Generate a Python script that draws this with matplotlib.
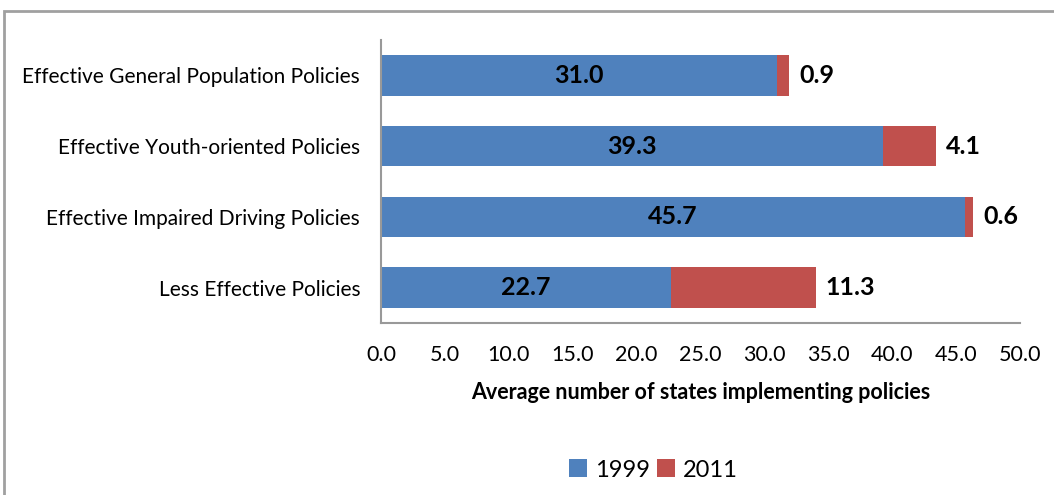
import matplotlib.pyplot as plt
from matplotlib.patches import Rectangle

# data
categorias = ['Effective General Population Policies', 'Effective Youth-oriented Policies',
              'Effective Impaired Driving Policies', 'Less Effective Policies']
v1999 = [31.0, 39.3, 45.7, 22.7]
v2011 = [0.9, 4.1, 0.6, 11.3]
anos = ['1999', '2011']
cores = ['#4F81BD', '#C0504D']

plt.rcParams['font.family'] = ['Lato', 'DejaVu Sans']

fig = plt.figure(figsize=(10.54, 4.95), dpi=100)
ax = fig.add_axes([381 / 1054, 1 - 323 / 495, (1020 - 381) / 1054, (323 - 40) / 495])

y = list(range(len(categorias)))[::-1]
b1 = ax.barh(y, v1999, height=0.57, color=cores[0], label=anos[0])
b2 = ax.barh(y, v2011, left=v1999, height=0.57, color=cores[1], label=anos[1])

for yi, a, b in zip(y, v1999, v2011):
    ax.text(a / 2, yi, f'{a:.1f}', ha='center', va='center', fontsize=18, fontweight='bold')
    ax.text(a + b + 0.8, yi, f'{b:.1f}', ha='left', va='center', fontsize=18, fontweight='bold')

ax.set_xlim(0, 50)
ax.set_ylim(-0.5, 3.5)
ax.set_xticks([i * 5 for i in range(11)])
ax.set_xticklabels([f'{i * 5:.1f}' for i in range(11)], fontsize=15.5)
ax.set_yticks(y)
ax.set_yticklabels(categorias, fontsize=15)
ax.tick_params(length=0, pad=15, axis='y')
ax.tick_params(length=0, pad=16, axis='x')
ax.set_xlabel('Average number of states implementing policies', fontsize=15.5, fontweight='bold', labelpad=12)

for s in ['top', 'right']:
    ax.spines[s].set_visible(False)
for s in ['left', 'bottom']:
    ax.spines[s].set_color('#999999')
    ax.spines[s].set_linewidth(1.5)

fig.legend(handles=[b1, b2], loc='center', bbox_to_anchor=(653 / 1054, 1 - 470 / 495), ncol=2,
           frameon=False, fontsize=17, handlelength=0.8, handleheight=0.8,
           handletextpad=0.3, columnspacing=0.3)

# moldura do grafico
fig.patches.append(Rectangle((4 / 1054, -0.1), 1.2, 1 - 11 / 495 + 0.1, transform=fig.transFigure,
                             fill=False, edgecolor='#A0A0A0', linewidth=2))

fig.savefig('out.png', dpi=100)
